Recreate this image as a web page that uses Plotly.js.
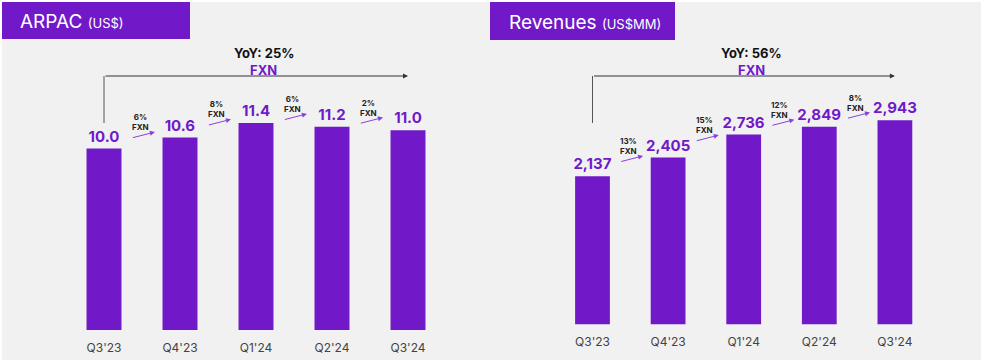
<!DOCTYPE html>
<html>
<head>
<meta charset="utf-8">
<script src="https://cdn.plot.ly/plotly-3.0.1.min.js"></script>
<style>html,body{margin:0;padding:0;background:#fff;}#chart{width:981px;height:364px;}</style>
</head>
<body>
<div id="chart"></div>
<script>
// ---- data ----
const quarters = ["Q3'23", "Q4'23", "Q1'24", "Q2'24", "Q3'24"];
const arpac = [10.0, 10.6, 11.4, 11.2, 11.0];
const revenues = [2137, 2405, 2736, 2849, 2943];
const arpacGrowth = ["6%", "8%", "6%", "2%"];
const revenueGrowth = ["13%", "15%", "12%", "8%"];
const arpacYoY = "25%";
const revenueYoY = "56%";

// ---- style ----
const W = 981, H = 364;
const PURPLE = '#7119C9';
const FONT = 'Inter, "Noto Sans", sans-serif';
const py = px => 1 - px / H;   // pixel-from-top -> paper y
const pxX = px => px / W;

const arpacText = arpac.map(v => v.toFixed(1));
const revText = revenues.map(v => v.toLocaleString('en-US'));

const barCommon = {type: 'bar', marker: {color: PURPLE}, textposition: 'outside', cliponaxis: false,
  constraintext: 'none', textfont: {family: FONT, size: 15, color: PURPLE, weight: 700}, hoverinfo: 'none'};
const traces = [
  Object.assign({}, barCommon, {x: quarters, y: arpac, xaxis: 'x', yaxis: 'y', text: arpacText}),
  Object.assign({}, barCommon, {x: quarters, y: revenues, xaxis: 'x2', yaxis: 'y2', text: revText})
];

const annotations = [];
const shapes = [];

// background panel
shapes.push({type: 'rect', xref: 'paper', yref: 'paper', x0: pxX(2), x1: 1, y0: py(360), y1: py(2),
  fillcolor: '#f1f1f1', line: {width: 0}, layer: 'below'});
// header boxes
shapes.push({type: 'rect', xref: 'paper', yref: 'paper', x0: pxX(2), x1: pxX(190), y0: py(39), y1: py(2),
  fillcolor: PURPLE, line: {width: 0}, layer: 'below'});
shapes.push({type: 'rect', xref: 'paper', yref: 'paper', x0: pxX(490), x1: pxX(675), y0: py(40), y1: py(2),
  fillcolor: PURPLE, line: {width: 0}, layer: 'below'});
annotations.push({xref: 'paper', yref: 'paper', x: pxX(18), y: py(21), xanchor: 'left', yanchor: 'middle',
  showarrow: false, text: 'ARPAC <span style="font-size:13px">(US$)</span>',
  font: {family: FONT, size: 19, color: '#ffffff'}});
annotations.push({xref: 'paper', yref: 'paper', x: pxX(507), y: py(22), xanchor: 'left', yanchor: 'middle',
  showarrow: false, text: 'Revenues <span style="font-size:13px">(US$MM)</span>',
  font: {family: FONT, size: 19, color: '#ffffff'}});

function decorate(xa, ya, vals, growth, yoy) {
  // YoY bracket
  shapes.push({type: 'line', xref: xa, yref: 'paper', x0: 0, x1: 0, y0: py(123), y1: py(76),
    line: {color: '#555', width: 1}});
  annotations.push({xref: xa, yref: 'paper', x: vals.length - 1, y: py(76), axref: xa, ax: 0,
    ayref: 'pixel', ay: 0, showarrow: true, arrowhead: 2, arrowsize: 1, arrowwidth: 1,
    arrowcolor: '#333', text: ''});
  annotations.push({xref: xa, yref: 'paper', x: 2.1, y: py(53), xanchor: 'center', yanchor: 'middle',
    showarrow: false, text: '<b>YoY: ' + yoy + '</b>', font: {family: FONT, size: 13, color: '#111'}});
  annotations.push({xref: xa, yref: 'paper', x: 2.1, y: py(70), xanchor: 'center', yanchor: 'middle',
    showarrow: false, text: '<b>FXN</b>', font: {family: FONT, size: 13, color: PURPLE}});
  // step growth arrows
  for (let i = 0; i < growth.length; i++) {
    const mid = (vals[i] + vals[i + 1]) / 2;
    annotations.push({xref: xa, yref: ya, x: i + 0.67, y: mid, yshift: 11,
      axref: xa, ax: i + 0.36, ayref: 'pixel', ay: 6, showarrow: true, arrowhead: 2,
      arrowsize: 1, arrowwidth: 1, arrowcolor: '#8a3fe0', text: ''});
    annotations.push({xref: xa, yref: ya, x: i + 0.48, y: mid, yshift: 21, xanchor: 'center', yanchor: 'middle',
      showarrow: false, text: '<b>' + growth[i] + '<br>FXN</b>', font: {family: FONT, size: 8, color: '#222'}});
  }
}
decorate('x', 'y', arpac, arpacGrowth, arpacYoY);
decorate('x2', 'y2', revenues, revenueGrowth, revenueYoY);

const xCommon = {type: 'category', range: [-0.5, 4.5], showgrid: false, zeroline: false, showline: false,
  ticks: '', tickfont: {family: FONT, size: 12, color: '#444'}, fixedrange: true};
const yCommon = {visible: false, showgrid: false, zeroline: false, fixedrange: true};

const layout = {
  width: W, height: H, margin: {l: 0, r: 0, t: 0, b: 0},
  paper_bgcolor: '#ffffff', plot_bgcolor: 'rgba(0,0,0,0)', showlegend: false,
  bargap: 0.54,
  xaxis: Object.assign({}, xCommon, {domain: [pxX(66), pxX(446)], anchor: 'y', ticklabelstandoff: 9}),
  yaxis: Object.assign({}, yCommon, {domain: [py(330), py(39.6)], range: [0, 16], anchor: 'x'}),
  xaxis2: Object.assign({}, xCommon, {domain: [pxX(554.7), pxX(932.7)], anchor: 'y2', ticklabelstandoff: 8}),
  yaxis2: Object.assign({}, yCommon, {domain: [py(324.5), py(46.9)], range: [0, 4000], anchor: 'x2'}),
  shapes: shapes, annotations: annotations,
  font: {family: FONT}
};

Plotly.newPlot('chart', traces, layout, {displayModeBar: false, staticPlot: true});
</script>
</body>
</html>
